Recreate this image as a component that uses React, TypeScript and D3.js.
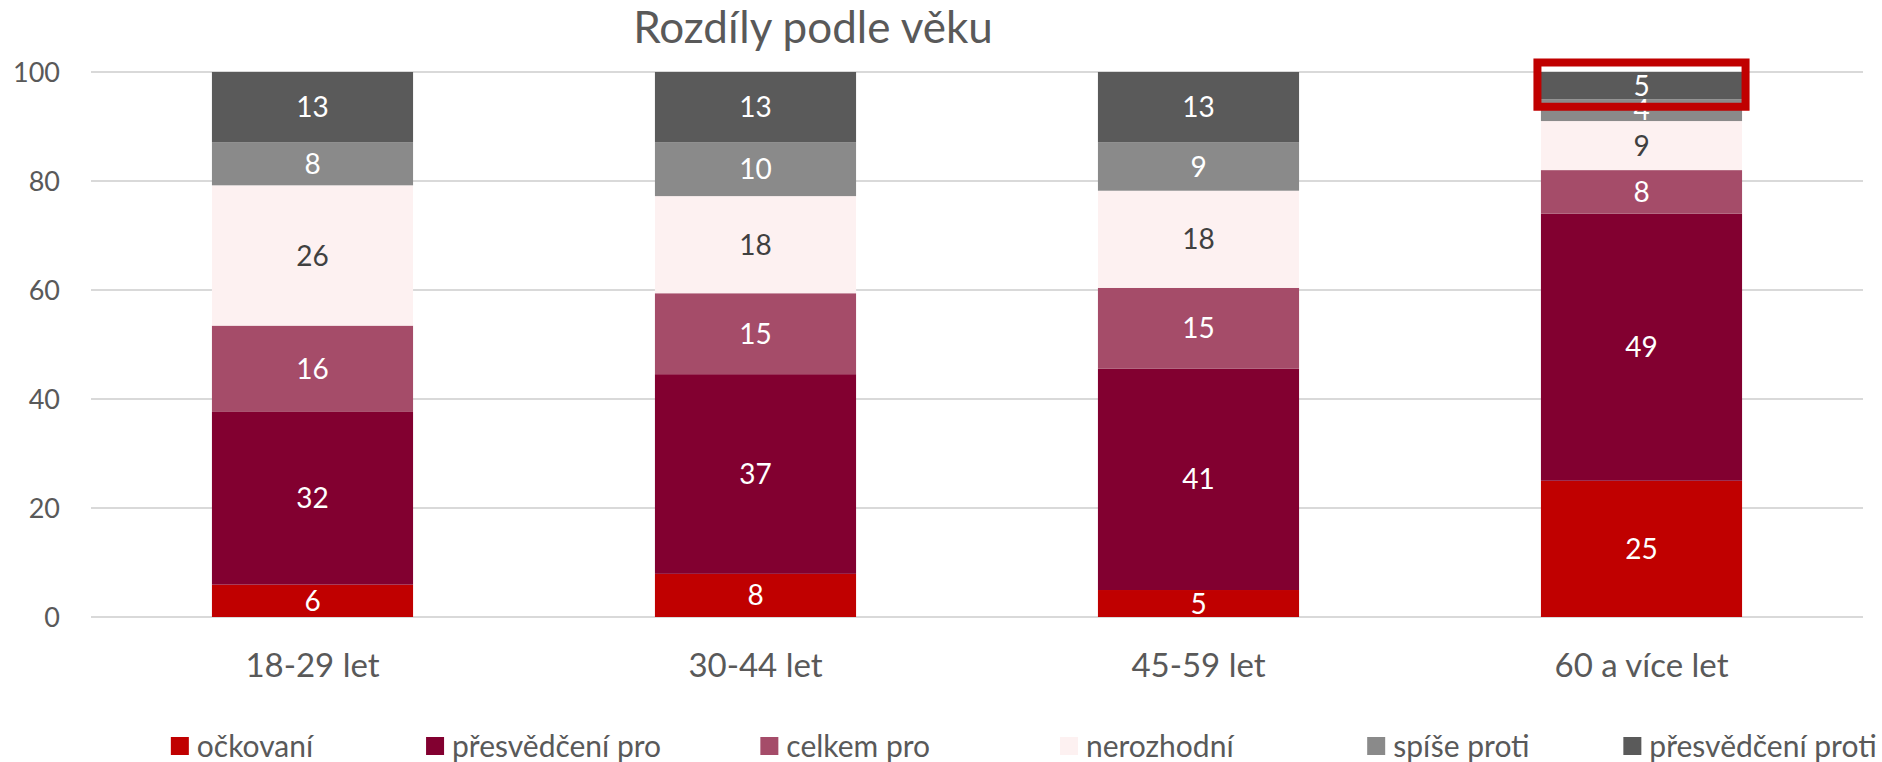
import React, { useEffect, useRef } from 'react';
import * as d3 from 'd3';

// categories and series (values as printed on the bars)
const categories = ['18-29 let', '30-44 let', '45-59 let', '60 a více let'];
const seriesNames = ['očkovaní', 'přesvědčení pro', 'celkem pro', 'nerozhodní', 'spíše proti', 'přesvědčení proti'];
const ockovani = [6, 8, 5, 25];
const presvedceniPro = [32, 37, 41, 49];
const celkemPro = [16, 15, 15, 8];
const nerozhodni = [26, 18, 18, 9];
const spiseProti = [8, 10, 9, 4];
const presvedceniProti = [13, 13, 13, 5];
const yTicks = [0, 20, 40, 60, 80, 100];
const title = 'Rozdíly podle věku';
// segment framed in red in the original
const highlight = { category: '60 a více let', series: 'přesvědčení proti' };

const colors = ['#C00000', '#820030', '#A54C69', '#FDF1F1', '#8A8A8A', '#5A5A5A'];
const labelColors = ['#FFFFFF', '#FFFFFF', '#FFFFFF', '#404040', '#FFFFFF', '#FFFFFF'];

const W = 1882;
const H = 762;
const FONT = 'Lato, "Open Sans", sans-serif';

export default function App() {
  const svgRef = useRef(null);

  useEffect(() => {
    const svg = d3.select(svgRef.current);
    svg.selectAll('*').remove();

    const seriesValues = [ockovani, presvedceniPro, celkemPro, nerozhodni, spiseProti, presvedceniProti];
    const table = categories.map((c, i) => {
      const row: any = { category: c };
      seriesNames.forEach((s, k) => { row[s] = seriesValues[k][i]; });
      return row;
    });

    // 100% stacked, like the original
    const stacked = d3.stack().keys(seriesNames).offset(d3.stackOffsetExpand)(table);

    const x = d3.scaleBand()
      .domain(categories)
      .range([91, 1863])
      .paddingInner(0.546)
      .paddingOuter(0.273);

    const y = d3.scaleLinear().domain([0, 100]).range([617, 72]);

    svg.append('rect').attr('width', W).attr('height', H).attr('fill', '#FFFFFF');

    // gridlines
    svg.append('g')
      .selectAll('line')
      .data(yTicks)
      .join('line')
      .attr('x1', 91)
      .attr('x2', 1863)
      .attr('y1', d => y(d))
      .attr('y2', d => y(d))
      .attr('stroke', '#D9D9D9')
      .attr('stroke-width', 2);

    // y tick labels
    svg.append('g')
      .selectAll('text')
      .data(yTicks)
      .join('text')
      .attr('x', 60)
      .attr('y', d => y(d))
      .attr('dy', '0.36em')
      .attr('text-anchor', 'end')
      .attr('font-family', FONT)
      .attr('font-size', 27)
      .attr('fill', '#595959')
      .text(d => d);

    // bars
    const layers = svg.append('g')
      .selectAll('g')
      .data(stacked)
      .join('g')
      .attr('fill', (d, i) => colors[i]);

    layers.selectAll('rect')
      .data(d => d)
      .join('rect')
      .attr('x', d => x(d.data.category))
      .attr('width', x.bandwidth())
      .attr('y', d => y(d[1] * 100))
      .attr('height', d => y(d[0] * 100) - y(d[1] * 100));

    // value labels
    stacked.forEach((layer, i) => {
      svg.append('g')
        .selectAll('text')
        .data(layer)
        .join('text')
        .attr('x', d => x(d.data.category) + x.bandwidth() / 2)
        .attr('y', d => y((d[0] + d[1]) * 50))
        .attr('dy', '0.36em')
        .attr('text-anchor', 'middle')
        .attr('font-family', FONT)
        .attr('font-size', 28)
        .attr('fill', labelColors[i])
        .text(d => d.data[layer.key]);
    });

    // red frame around highlighted segment
    const hl = stacked.find(s => s.key === highlight.series).find(d => d.data.category === highlight.category);
    svg.append('rect')
      .attr('x', x(highlight.category) - 3.5)
      .attr('width', x.bandwidth() + 7)
      .attr('y', y(hl[1] * 100) - 9.5)
      .attr('height', y(hl[0] * 100) + 7.5 - (y(hl[1] * 100) - 9.5))
      .attr('fill', 'none')
      .attr('stroke', '#C00000')
      .attr('stroke-width', 8);

    // category labels
    svg.append('g')
      .selectAll('text')
      .data(categories)
      .join('text')
      .attr('x', d => x(d) + x.bandwidth() / 2)
      .attr('y', 677)
      .attr('text-anchor', 'middle')
      .attr('font-family', FONT)
      .attr('font-size', 33)
      .attr('fill', '#595959')
      .text(d => d);

    // title
    svg.append('text')
      .attr('x', 813)
      .attr('y', 43)
      .attr('text-anchor', 'middle')
      .attr('font-family', FONT)
      .attr('font-size', 44)
      .attr('fill', '#595959')
      .text(title);

    // legend, entries centred in equal slots
    const lx = d3.scalePoint().domain(seriesNames).range([242, 1750]);
    seriesNames.forEach((name, i) => {
      const g = svg.append('g');
      const t = g.append('text')
        .attr('y', 746)
        .attr('dy', '0.36em')
        .attr('font-family', FONT)
        .attr('font-size', 30)
        .attr('fill', '#595959')
        .text(name);
      const tw = (t.node() as SVGTextElement).getComputedTextLength();
      const start = lx(name) - (18 + 8 + tw) / 2;
      g.append('rect')
        .attr('x', start)
        .attr('y', 737)
        .attr('width', 18)
        .attr('height', 18)
        .attr('fill', colors[i]);
      t.attr('x', start + 26);
    });
  }, []);

  return (
    <svg
      ref={svgRef}
      width={W}
      height={H}
      style={{ position: 'absolute', left: 0, top: 0, display: 'block' }}
    />
  );
}
